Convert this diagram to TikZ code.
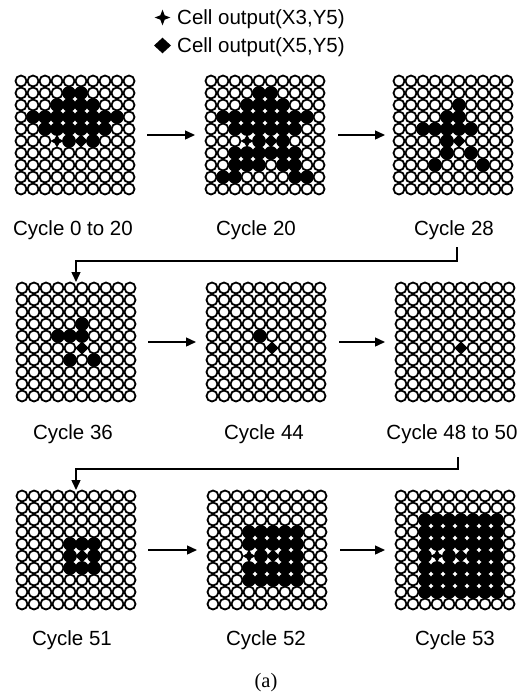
\documentclass[tikz,border=0pt]{standalone}
\usepackage{fontspec}
\setmainfont{Liberation Sans}
\newfontfamily\serifa{Liberation Serif}
\usetikzlibrary{arrows.meta}

\newcommand\setcells[2]{\foreach \c/\r in {#2}{\expandafter\xdef\csname fc#1-\c-\r\endcsname{1}}}
\newcommand\setblock[5]{\foreach \c in {#2,...,#3}{\foreach \r in {#4,...,#5}{\expandafter\xdef\csname fc#1-\c-\r\endcsname{1}}}}
\def\starkey{3-5}
\def\diamkey{5-5}
\newcommand\cellgrid[3]{%
  \begin{scope}[shift={(#2,#3)}]
  \foreach \c in {0,...,9}{\foreach \r in {0,...,9}{%
    \edef\ckey{\c-\r}%
    \ifcsname fc#1-\ckey\endcsname\else
      \draw[line width=1.8pt] (6+12*\c,6+12*\r) circle (5.5);
    \fi
  }}
  \foreach \c in {0,...,9}{\foreach \r in {0,...,9}{%
    \edef\ckey{\c-\r}%
    \ifcsname fc#1-\ckey\endcsname
      \ifx\ckey\starkey
        \fill (6+12*\c,6+12*\r) +(0,-6.6) -- +(2.3,-2.3) -- +(6.6,0) -- +(2.3,2.3) -- +(0,6.6) -- +(-2.3,2.3) -- +(-6.6,0) -- +(-2.3,-2.3) -- cycle;
      \else\ifx\ckey\diamkey
        \fill (6+12*\c,6+12*\r) +(0,-6.7) -- +(6.7,0) -- +(0,6.7) -- +(-6.7,0) -- cycle;
      \else
        \fill (6+12*\c,6+12*\r) circle (6.9);
      \fi\fi
    \fi
  }}
  \end{scope}}

\tikzset{
  gridbox/.style={minimum size=120pt,inner sep=0pt,outer sep=0pt},
  lab/.style={font=\fontsize{20.5}{22}\selectfont,anchor=base,inner sep=0pt},
  arr/.style={line width=1.4pt,-{Triangle[length=10pt,width=9pt]}},
  wrap/.style={line width=1.4pt,-{Triangle[length=10pt,width=9pt]}}
}

% patterns
\setcells{g1}{4/1,5/1,3/2,4/2,5/2,6/2,1/3,2/3,3/3,4/3,5/3,6/3,7/3,8/3,2/4,3/4,4/4,5/4,6/4,7/4,3/5,4/5,5/5,6/5}
\setcells{g2}{4/1,5/1,3/2,4/2,5/2,6/2,1/3,2/3,3/3,4/3,5/3,6/3,7/3,8/3,2/4,3/4,4/4,5/4,6/4,7/4,3/5,4/5,5/5,6/5,2/6,3/6,4/6,5/6,6/6,7/6,2/7,3/7,4/7,6/7,7/7,1/8,2/8,7/8,8/8}
\setcells{g3}{5/2,4/3,5/3,2/4,3/4,4/4,5/4,6/4,4/5,5/5,4/6,6/6,3/7,7/7}
\setcells{g4}{5/3,3/4,4/4,5/4,5/5,4/6,6/6}
\setcells{g5}{4/4,5/5}
\setcells{g6}{5/5}
\setblock{g7}{4}{6}{4}{6}
\setblock{g8}{3}{7}{3}{7}
\setblock{g9}{2}{8}{2}{8}

\begin{document}
\begin{tikzpicture}[x=1pt,y=-1pt]
\useasboundingbox (0,0) rectangle (529,697);

% legend
\fill (162.5,17.5) +(0,-7.8) -- +(2.2,-2.2) -- +(7.8,0) -- +(2.2,2.2) -- +(0,7.8) -- +(-2.2,2.2) -- +(-7.8,0) -- +(-2.2,-2.2) -- cycle;
\node[lab,anchor=base west] (leg1) at (177,24) {Cell output(X3,Y5)};
\fill (162.5,45.5) +(0,-7.8) -- +(8.5,0) -- +(0,7.8) -- +(-8.5,0) -- cycle;
\node[lab,anchor=base west] (leg2) at (177,52) {Cell output(X5,Y5)};

% grids
\cellgrid{g1}{15}{75}
\cellgrid{g2}{205}{75}
\cellgrid{g3}{393}{75}
\cellgrid{g4}{16}{282}
\cellgrid{g5}{206}{282}
\cellgrid{g6}{395}{282}
\cellgrid{g7}{16}{490}
\cellgrid{g8}{207}{490}
\cellgrid{g9}{395}{490}

\node[gridbox] (g1) at (75,135) {};
\node[gridbox] (g2) at (265,135) {};
\node[gridbox] (g3) at (453,135) {};
\node[gridbox] (g4) at (76,342) {};
\node[gridbox] (g5) at (266,342) {};
\node[gridbox] (g6) at (455,342) {};
\node[gridbox] (g7) at (76,550) {};
\node[gridbox] (g8) at (267,550) {};
\node[gridbox] (g9) at (455,550) {};

% labels
\node[lab] (l1) at (73,235) {Cycle 0 to 20};
\node[lab] (l2) at (256,235) {Cycle 20};
\node[lab] (l3) at (454,235) {Cycle 28};
\node[lab] (l4) at (73,439) {Cycle 36};
\node[lab] (l5) at (264,439) {Cycle 44};
\node[lab] (l6) at (452,439) {Cycle 48 to 50};
\node[lab] (l7) at (72,645) {Cycle 51};
\node[lab] (l8) at (266,645) {Cycle 52};
\node[lab] (l9) at (455,645) {Cycle 53};
\node[font=\serifa\fontsize{20.5}{22}\selectfont,anchor=base,inner sep=0pt] (cap) at (266,687) {(a)};

% arrows
\draw[arr] ([xshift=12pt]g1.east) -- ([xshift=-10pt]g2.west);
\draw[arr] ([xshift=13pt]g2.east) -- ([xshift=-8pt]g3.west);
\draw[arr] ([xshift=12pt]g4.east) -- ([xshift=-10pt]g5.west);
\draw[arr] ([xshift=13pt]g5.east) -- ([xshift=-10pt]g6.west);
\draw[arr] ([xshift=12pt]g7.east) -- ([xshift=-10pt]g8.west);
\draw[arr] ([xshift=13pt]g8.east) -- ([xshift=-10pt]g9.west);

\coordinate (t3) at (457,247);
\coordinate (t6) at (458,457);
\draw[wrap] (t3) -- ++(0,14) -| (g4.north);
\draw[wrap] (t6) -- ++(0,12) -| (g7.north);
\end{tikzpicture}
\end{document}
